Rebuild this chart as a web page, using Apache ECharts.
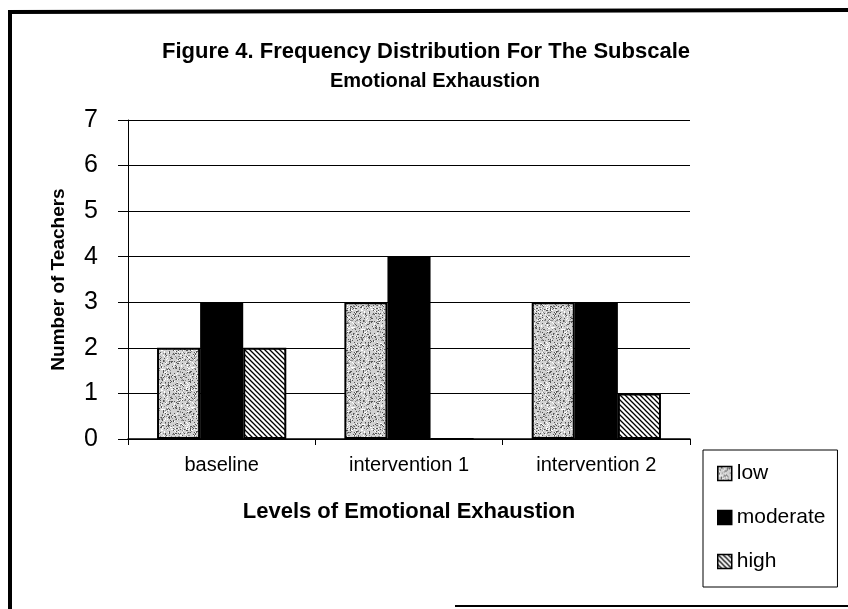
<!DOCTYPE html>
<html>
<head>
<meta charset="utf-8">
<script src="https://cdn.jsdelivr.net/npm/echarts@6/dist/echarts.min.js"></script>
<style>
  html, body { margin: 0; padding: 0; background: #fff; }
  #chart { width: 848px; height: 609px; }
</style>
</head>
<body>
<div id="chart"></div>
<script>
const categories = ['baseline', 'intervention 1', 'intervention 2']
const lowValues = [2, 3, 3]
const moderateValues = [3, 4, 3]
const highValues = [2, 0, 1]
const yTicks = [0, 1, 2, 3, 4, 5, 6, 7]

const FONT = 'Arial, "Liberation Sans", sans-serif'

// stippled grey texture for "low" (fixed seed so it looks the same every run)
function stipple() {
  const c = document.createElement('canvas')
  c.width = 40
  c.height = 40
  const ctx = c.getContext('2d')
  ctx.fillStyle = '#d2d2d2'
  ctx.fillRect(0, 0, 40, 40)
  let s = 7
  const rnd = () => { s = (s * 16807) % 2147483647; return s / 2147483647 }
  for (let i = 0; i < 560; i++) {
    const v = rnd()
    ctx.fillStyle = v < 0.45 ? '#555' : (v < 0.75 ? '#8a8a8a' : '#fff')
    ctx.fillRect(Math.floor(rnd() * 40), Math.floor(rnd() * 40), 1, 1)
  }
  return c
}

// diagonal hatch for "high" (lines running top-left to bottom-right)
function hatch() {
  const n = 5
  const c = document.createElement('canvas')
  c.width = n
  c.height = n
  const ctx = c.getContext('2d')
  ctx.fillStyle = '#fff'
  ctx.fillRect(0, 0, n, n)
  ctx.strokeStyle = '#000'
  ctx.lineWidth = 1.3
  ctx.beginPath()
  ctx.moveTo(-1, -1); ctx.lineTo(n + 1, n + 1)
  ctx.moveTo(-n - 1, -1); ctx.lineTo(1, n + 1)
  ctx.moveTo(n - 1, -1); ctx.lineTo(2 * n + 1, n + 1)
  ctx.stroke()
  return c
}

const chart = echarts.init(document.getElementById('chart'))
const barStyle = { borderColor: '#000', borderWidth: 2 }

chart.setOption({
  animation: false,
  title: [
    {
      text: 'Figure 4. Frequency Distribution For The Subscale',
      left: 421,
      textAlign: 'center',
      top: 36,
      textStyle: { fontFamily: FONT, fontWeight: 'bold', fontSize: 22, color: '#000' }
    },
    {
      text: 'Emotional Exhaustion',
      left: 430,
      textAlign: 'center',
      top: 66,
      textStyle: { fontFamily: FONT, fontWeight: 'bold', fontSize: 20, color: '#000' }
    }
  ],
  legend: {
    orient: 'vertical',
    left: 703,
    top: 450,
    padding: [13, 12, 15, 14],
    itemGap: 23,
    icon: 'rect',
    itemWidth: 14,
    itemHeight: 14,
    borderColor: '#000',
    borderWidth: 1,
    itemStyle: { borderWidth: 1.5 },
    textStyle: { fontFamily: FONT, fontSize: 21, color: '#000' },
    data: ['low', 'moderate', 'high']
  },
  grid: { left: 128, right: 158, top: 120, bottom: 170 },
  xAxis: {
    type: 'category',
    data: categories,
    name: 'Levels of Emotional Exhaustion',
    nameLocation: 'middle',
    nameGap: 62,
    nameTextStyle: { fontFamily: FONT, fontWeight: 'bold', fontSize: 22, color: '#000' },
    axisLine: { lineStyle: { color: '#000', width: 1.5 } },
    axisTick: { show: true, length: 6, lineStyle: { color: '#000' } },
    axisLabel: { fontFamily: FONT, fontSize: 20, color: '#000', margin: 16 }
  },
  yAxis: {
    type: 'value',
    min: yTicks[0],
    max: yTicks[yTicks.length - 1],
    interval: 1,
    name: 'Number of Teachers',
    nameLocation: 'middle',
    nameGap: 60,
    nameTextStyle: { fontFamily: FONT, fontWeight: 'bold', fontSize: 19, color: '#000' },
    axisLine: { show: true, lineStyle: { color: '#000', width: 1 } },
    axisTick: { show: true, length: 10, lineStyle: { color: '#000' } },
    axisLabel: { fontFamily: FONT, fontSize: 25, color: '#000', margin: 30 },
    splitLine: { lineStyle: { color: '#000', width: 1 } }
  },
  graphic: [
    { type: 'line', shape: { x1: 8, y1: 12, x2: 848, y2: 10 }, style: { stroke: '#000', lineWidth: 4 } },
    { type: 'line', shape: { x1: 10, y1: 10, x2: 10, y2: 609 }, style: { stroke: '#000', lineWidth: 4 } },
    { type: 'line', shape: { x1: 455, y1: 606, x2: 848, y2: 606 }, style: { stroke: '#000', lineWidth: 2 } }
  ],
  series: [
    {
      name: 'low', type: 'bar', data: lowValues,
      barGap: 0, barCategoryGap: '31%',
      itemStyle: Object.assign({ color: { image: stipple(), repeat: 'repeat' } }, barStyle)
    },
    {
      name: 'moderate', type: 'bar', data: moderateValues,
      itemStyle: Object.assign({ color: '#000' }, barStyle)
    },
    {
      name: 'high', type: 'bar', data: highValues,
      itemStyle: Object.assign({ color: { image: hatch(), repeat: 'repeat' } }, barStyle)
    }
  ]
})
</script>
</body>
</html>
